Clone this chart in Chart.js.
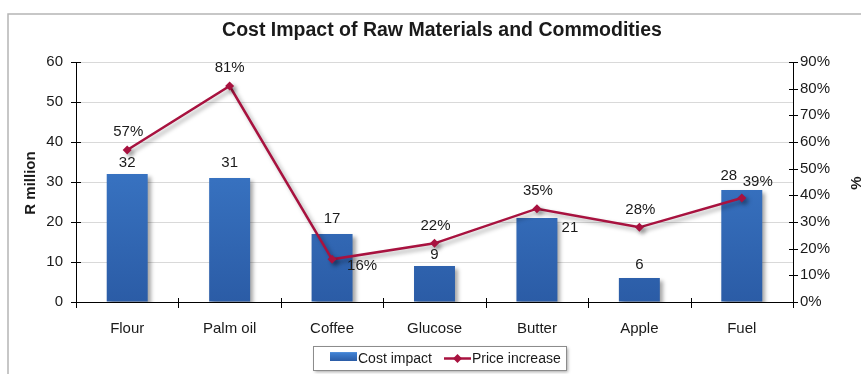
<!DOCTYPE html>
<html>
<head>
<meta charset="utf-8">
<script src="https://cdn.jsdelivr.net/npm/chart.js@4/dist/chart.umd.min.js"></script>
<style>
  html, body { margin: 0; padding: 0; background: #fff; overflow: hidden; }
  canvas { display: block; }
</style>
</head>
<body>
<canvas id="chart" width="861" height="374"></canvas>
<script>
'use strict';

const categories = ['Flour', 'Palm oil', 'Coffee', 'Glucose', 'Butter', 'Apple', 'Fuel'];
const costImpact = [32, 31, 17, 9, 21, 6, 28];
const priceIncrease = [57, 81, 16, 22, 35, 28, 39];
const leftTicks = [0, 10, 20, 30, 40, 50, 60];
const rightTicks = [0, 10, 20, 30, 40, 50, 60, 70, 80, 90];

// label placement (dx, dy from bar top / point)
const costLabelOffset = [[0, -11], [0, -15], [0, -15], [0, -11], [33, 10], [0, -13], [-13, -14]];
const priceLabelOffset = [[1, -18], [0, -18], [30, 7], [1, -17], [1, -18], [1, -17], [16, -16]];

const FONT = "'Liberation Sans', Arial, sans-serif";
const TEXT = '#1a1a1a';
const LINE_COLOR = '#a8123f';

function barGradient(ctx, top, bottom) {
  const g = ctx.createLinearGradient(0, top, 0, bottom);
  g.addColorStop(0, '#5b97df');
  g.addColorStop(0.15, '#3f7fd0');
  g.addColorStop(1, '#2b5ca6');
  return g;
}

const shadowPlugin = {
  id: 'shadows',
  beforeDatasetDraw(chart) {
    const ctx = chart.ctx;
    ctx.save();
    ctx.shadowColor = 'rgba(0,0,0,0.35)';
    ctx.shadowOffsetX = 3;
    ctx.shadowOffsetY = 3;
    ctx.shadowBlur = 4;
  },
  afterDatasetDraw(chart) { chart.ctx.restore(); }
};

const decorPlugin = {
  id: 'decor',
  beforeDraw(chart) {
    const ctx = chart.ctx;
    ctx.save();
    ctx.fillStyle = '#fff';
    ctx.fillRect(0, 0, chart.width, chart.height);
    ctx.strokeStyle = '#b5b5b5';
    ctx.lineWidth = 1.5;
    ctx.strokeRect(8, 14, 900, 400);
    ctx.restore();
  },
  afterDatasetsDraw(chart) {
    const ctx = chart.ctx;
    const area = chart.chartArea;
    ctx.save();
    ctx.font = '15px ' + FONT;
    ctx.fillStyle = TEXT;
    ctx.textAlign = 'center';
    ctx.textBaseline = 'middle';
    const bars = chart.getDatasetMeta(1).data;
    bars.forEach((b, i) => {
      const o = costLabelOffset[i];
      ctx.fillText(String(costImpact[i]), b.x + o[0], b.y + o[1]);
    });
    const pts = chart.getDatasetMeta(0).data;
    pts.forEach((p, i) => {
      const o = priceLabelOffset[i];
      ctx.fillText(priceIncrease[i] + '%', p.x + o[0], p.y + o[1]);
    });

    // crossing tick marks
    ctx.strokeStyle = '#000';
    ctx.lineWidth = 1;
    ctx.beginPath();
    const y = chart.scales.y, y1 = chart.scales.y1, x = chart.scales.x;
    leftTicks.forEach(v => {
      const py = Math.round(y.getPixelForValue(v)) + 0.5;
      ctx.moveTo(area.left - 5, py); ctx.lineTo(area.left + 5, py);
    });
    rightTicks.forEach(v => {
      const py = Math.round(y1.getPixelForValue(v)) + 0.5;
      ctx.moveTo(area.right - 4, py); ctx.lineTo(area.right + 5, py);
    });
    for (let i = 0; i <= categories.length; i++) {
      const px = Math.round(x.getPixelForValue(i - 0.5)) + 0.5;
      ctx.moveTo(px, area.bottom - 4); ctx.lineTo(px, area.bottom + 6);
    }
    ctx.moveTo(area.left - 4, Math.round(area.bottom) + 0.5);
    ctx.lineTo(area.left, Math.round(area.bottom) + 0.5);
    ctx.stroke();
    ctx.restore();
  },
  afterDraw(chart) {
    const ctx = chart.ctx;
    ctx.save();
    ctx.fillStyle = TEXT;
    ctx.textAlign = 'center';
    ctx.textBaseline = 'middle';
    ctx.font = 'bold 19.5px ' + FONT;
    ctx.fillText('Cost Impact of Raw Materials and Commodities', 442, 31);

    ctx.font = 'bold 15px ' + FONT;
    ctx.save();
    ctx.translate(31, 183);
    ctx.rotate(-Math.PI / 2);
    ctx.fillText('R million', 0, 0);
    ctx.restore();
    ctx.save();
    ctx.translate(857, 183);
    ctx.rotate(-Math.PI / 2);
    ctx.fillText('%', 0, 0);
    ctx.restore();

    // legend
    ctx.save();
    ctx.shadowColor = 'rgba(0,0,0,0.35)';
    ctx.shadowOffsetX = 2;
    ctx.shadowOffsetY = 2;
    ctx.shadowBlur = 3;
    ctx.fillStyle = '#fff';
    ctx.fillRect(313, 346, 253, 24);
    ctx.restore();
    ctx.strokeStyle = '#8c8c8c';
    ctx.lineWidth = 1;
    ctx.strokeRect(313.5, 346.5, 253, 24);

    ctx.fillStyle = barGradient(ctx, 352, 361);
    ctx.fillRect(330, 352, 27, 9);
    ctx.strokeStyle = LINE_COLOR;
    ctx.lineWidth = 2.5;
    ctx.beginPath();
    ctx.moveTo(444, 358.5); ctx.lineTo(471, 358.5);
    ctx.stroke();
    ctx.fillStyle = LINE_COLOR;
    ctx.beginPath();
    ctx.moveTo(457.5, 354); ctx.lineTo(462, 358.5); ctx.lineTo(457.5, 363); ctx.lineTo(453, 358.5);
    ctx.closePath(); ctx.fill();

    ctx.fillStyle = TEXT;
    ctx.font = '14px ' + FONT;
    ctx.textAlign = 'left';
    ctx.fillText('Cost impact', 358, 359);
    ctx.fillText('Price increase', 472, 359);
    ctx.restore();
  }
};

new Chart(document.getElementById('chart').getContext('2d'), {
  type: 'bar',
  data: {
    labels: categories,
    datasets: [
      {
        type: 'line',
        label: 'Price increase',
        data: priceIncrease,
        yAxisID: 'y1',
        order: 1,
        borderColor: LINE_COLOR,
        backgroundColor: LINE_COLOR,
        borderWidth: 2.5,
        tension: 0,
        pointStyle: 'rectRot',
        pointRadius: 4.5,
        pointBorderWidth: 0,
        pointBackgroundColor: LINE_COLOR
      },
      {
        type: 'bar',
        label: 'Cost impact',
        data: costImpact,
        yAxisID: 'y',
        order: 2,
        barPercentage: 0.4,
        categoryPercentage: 1,
        backgroundColor: c => {
          const a = c.chart.chartArea;
          if (!a) { return '#3f7fd0'; }
          return barGradient(c.chart.ctx, a.top, a.bottom);
        },
        borderColor: '#2a5598',
        borderWidth: 0
      }
    ]
  },
  options: {
    responsive: false,
    animation: false,
    devicePixelRatio: 1,
    layout: { padding: { left: 40, right: 28, top: 62, bottom: 30 } },
    plugins: { legend: { display: false }, title: { display: false }, tooltip: { enabled: false } },
    scales: {
      x: {
        offset: true,
        grid: { display: false, drawTicks: false },
        border: { display: true, color: '#000', width: 1 },
        ticks: { color: TEXT, font: { family: FONT, size: 15 }, padding: 18, maxRotation: 0 },
        afterFit: s => { s.height = 42; }
      },
      y: {
        position: 'left',
        min: 0,
        max: 60,
        afterBuildTicks: s => { s.ticks = leftTicks.map(v => ({ value: v })); },
        grid: { color: '#d9d9d9', drawTicks: false },
        border: { display: true, color: '#000', width: 1 },
        ticks: { color: TEXT, font: { family: FONT, size: 15 }, padding: 13 },
        afterFit: s => { s.width = 36; }
      },
      y1: {
        position: 'right',
        min: 0,
        max: 90,
        afterBuildTicks: s => { s.ticks = rightTicks.map(v => ({ value: v })); },
        grid: { display: false, drawOnChartArea: false, drawTicks: false },
        border: { display: true, color: '#000', width: 1 },
        ticks: { color: TEXT, font: { family: FONT, size: 15 }, padding: 7, callback: v => v + '%' },
        afterFit: s => { s.width = 40; }
      }
    }
  },
  plugins: [shadowPlugin, decorPlugin]
});
</script>
</body>
</html>
